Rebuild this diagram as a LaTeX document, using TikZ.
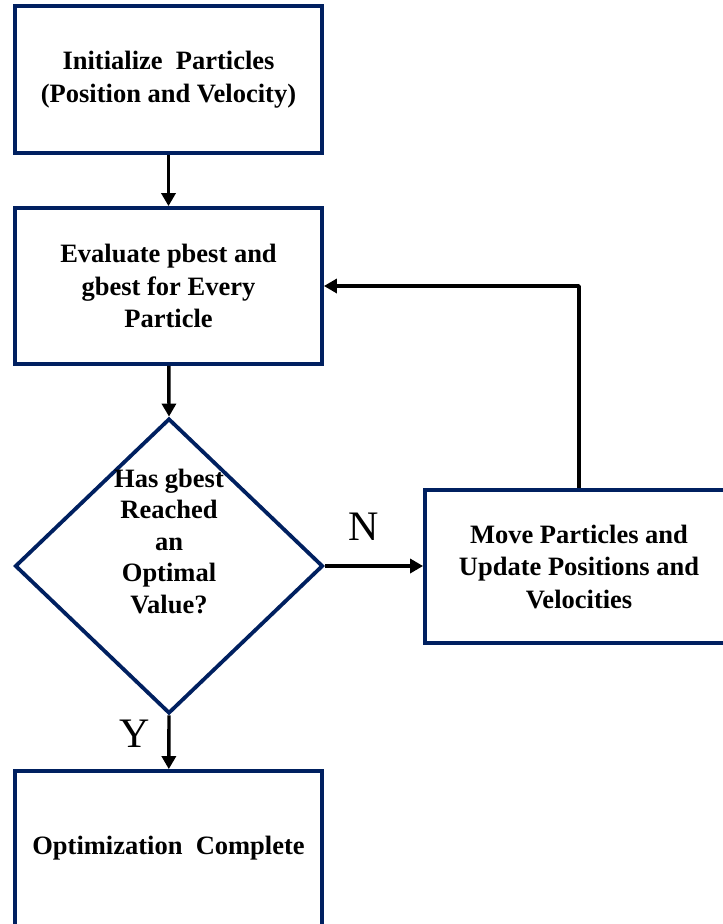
\documentclass[tikz,border=0pt]{standalone}
\usepackage{fontspec}
\setmainfont{Liberation Serif}
\usetikzlibrary{shapes.geometric,arrows.meta}
\definecolor{navy}{RGB}{0,32,96}
\begin{document}
\begin{tikzpicture}[x=1pt,y=-1pt,
  stepbox/.style={draw=navy,line width=3.8pt,rectangle,inner sep=0pt,
    minimum width=307pt,fill=white,align=center,
    font=\fontsize{26.5}{32.5}\selectfont\bfseries},
  decision/.style={draw=navy,line width=3.8pt,diamond,inner sep=0pt,
    minimum width=308pt,minimum height=295pt,fill=white},
  btext/.style={align=center,inner sep=0pt,
    font=\fontsize{26.5}{31.5}\selectfont\bfseries},
  flow/.style={line width=3.4pt,-{Triangle[length=13pt,width=14pt]}},
  yn/.style={font=\fontsize{42}{42}\selectfont,inner sep=0pt}]
\useasboundingbox (0,0) rectangle (723,924);
\fill[white] (0,0) rectangle (723,924);
\clip (0,0) rectangle (723,924);

\node[stepbox,minimum height=147pt] (init) at (168.5,79.5)
  {Initialize\ \ Particles\\(Position and Velocity)};
\node[stepbox,minimum height=156pt] (eval) at (168.5,286)
  {Evaluate pbest and\\gbest for Every\\Particle};
\node[decision] (dec) at (169,566) {};
\node[btext] (dectext) at (169,541)
  {Has gbest\\Reached\\an\\Optimal\\Value?};
\node[stepbox,minimum width=308pt,minimum height=153pt] (move) at (579,566.5)
  {Move Particles and\\Update Positions and\\Velocities};
\node[stepbox,minimum height=155pt] (done) at (168.5,848.5)
  {Optimization\ \ Complete};

\node[yn] (nlab) at (364,527) {N};
\node[yn] (ylab) at (135,734) {Y};

\draw[flow] (init) -- (eval);
\draw[flow] (eval) -- (dec.north);
\draw[flow] (dec.east) -- (move.west |- dec.east);
\draw[flow] (dec.south) -- (done);
\draw[flow,line join=round] (move.north) |- (eval.east);
\end{tikzpicture}
\end{document}
